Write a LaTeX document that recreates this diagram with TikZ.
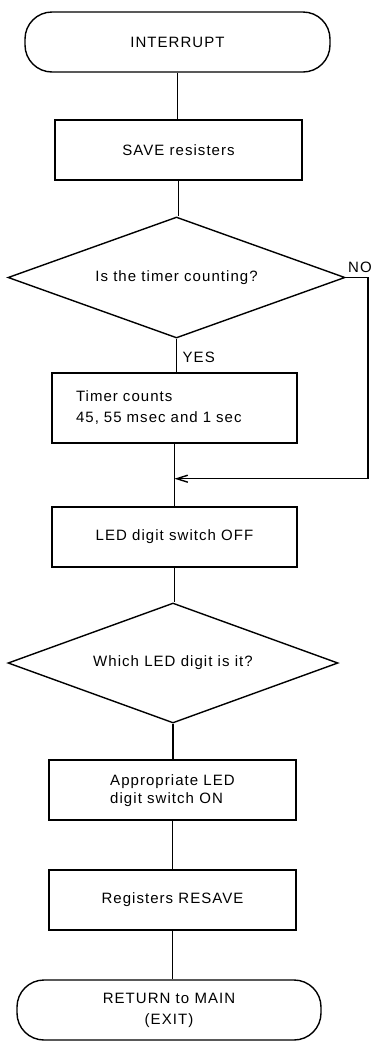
\documentclass[tikz,border=0pt]{standalone}
\usepackage{fontspec}
\setmainfont[LetterSpace=7]{Liberation Sans}
\usetikzlibrary{shapes.geometric,arrows.meta,positioning}

\begin{document}
\begin{tikzpicture}[x=1pt,y=-1pt,line width=1.4pt,
  every node/.style={font=\fontsize{15}{21}\selectfont},
  term/.style={draw,rounded corners=27pt,minimum width=#1,minimum height=60pt,align=center},
  proc/.style={draw,minimum width=#1,minimum height=60pt,align=center},
  dec/.style={draw,diamond,aspect=2.8,inner sep=0pt},
  ->/.style={-{Straight Barb[length=11pt,width=7pt]}}]
\useasboundingbox (0,0) rectangle (375,1042);
\node[term=305pt] (start) at (177.5,42) {INTERRUPT};
\node[proc=247pt] (save) at (178.5,150) {SAVE resisters};
\node[dec,minimum width=337pt,minimum height=121pt] (dec1) at (176.5,277.5) {Is the timer counting?};
\node[proc=245pt,minimum height=70pt,text width=197pt,inner xsep=24pt,align=left] (timer) at (174.5,408) {Timer counts\\45, 55 msec and 1 sec};
\node[proc=245pt] (ledoff) at (174.5,537) {LED digit switch OFF};
\node[dec,minimum width=330pt,minimum height=120pt] (dec2) at (173,663) {Which LED digit is it?};
\node[proc=247pt] (ledon) at (172.5,790) {\begin{tabular}{@{}l@{}}Appropriate LED\\[-3pt]digit switch ON\end{tabular}};
\node[proc=247pt] (resave) at (172.5,900) {Registers RESAVE};
\node[term=304pt] (stop) at (169,1010) {RETURN to MAIN\\(EXIT)};
\node[anchor=west,inner sep=1pt] (yes) at (181,357) {YES};
\node[inner sep=1pt] (no) at (360,267) {NO};

\draw (start.south) -- (start.south |- save.north);
\draw (save.south) -- (save.south |- dec1.north);
\draw (dec1.south) -- (dec1.south |- timer.north);
\draw (timer.south) -- (timer.south |- ledoff.north);
\draw (ledoff.south) -- (ledoff.south |- dec2.north);
\draw (dec2.south) -- (dec2.south |- ledon.north);
\draw (ledon.south) -- (ledon.south |- resave.north);
\draw (resave.south) -- (resave.south |- stop.north);
\path (timer.south) ++(0,35) coordinate (join);
\coordinate (nocorner) at (368,277.5);
\draw[->] (dec1.east) -- (nocorner) |- (join);
\end{tikzpicture}
\end{document}
